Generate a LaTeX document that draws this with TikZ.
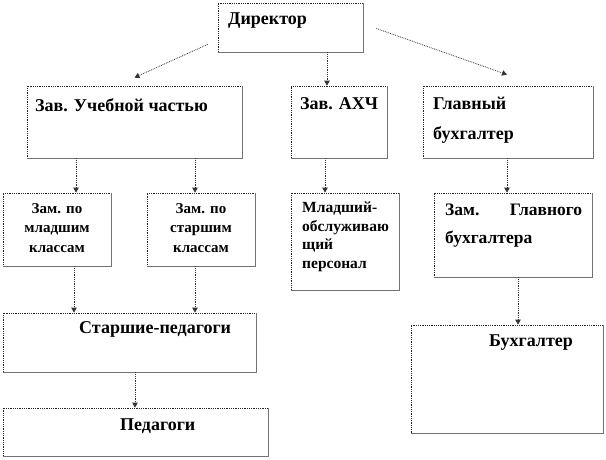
\documentclass[tikz,border=0pt]{standalone}
\usepackage{fontspec}
\setmainfont{Liberation Serif}
\usetikzlibrary{arrows.meta}
\begin{document}
\begin{tikzpicture}[x=1pt,y=-1pt,
  box/.style={draw=black!85, densely dotted, line width=0.8pt, inner sep=0pt, fill=white},
  edge/.style={draw=black!55, line width=0.8pt},
  arr/.style={draw=black!80, densely dotted, line width=0.8pt, -{Triangle[width=5.5pt,length=5pt,sep=0pt]}},
  big/.style={font=\bfseries\fontsize{18}{30}\selectfont, inner sep=0pt},
  mid/.style={font=\bfseries\fontsize{17.5}{28}\selectfont, inner sep=0pt},
  small/.style={font=\bfseries\fontsize{15}{19.5}\selectfont, inner sep=0pt},
  smallb/.style={font=\bfseries\fontsize{15.5}{18.5}\selectfont, inner sep=0pt}]
\useasboundingbox[fill=white] (0,0) rectangle (606,459);

% boxes
\node[box, minimum width=145pt, minimum height=49pt] (dir)  at (290.5,27.5) {};
\node[box, minimum width=215pt, minimum height=72pt] (zu)   at (134.5,122) {};
\node[box, minimum width=96pt,  minimum height=72pt] (ahch) at (339,122) {};
\node[box, minimum width=170pt, minimum height=72pt] (gb)   at (508,122) {};
\node[box, minimum width=108pt, minimum height=73pt] (zml)  at (57,229.5) {};
\node[box, minimum width=108pt, minimum height=73pt] (zst)  at (201,229.5) {};
\node[box, minimum width=108pt, minimum height=97pt] (mop)  at (345,241.5) {};
\node[box, minimum width=158pt, minimum height=84pt] (zgb)  at (513,235) {};
\node[box, minimum width=253pt, minimum height=59pt] (stp)  at (129.5,342.5) {};
\node[box, minimum width=265pt, minimum height=48pt] (ped)  at (135.5,432) {};
\node[box, minimum width=192pt, minimum height=108pt] (buh) at (507,379) {};

\foreach \b in {dir,zu,ahch,gb,zml,zst,mop,zgb,stp,ped,buh}
  \draw[edge] (\b.north east) -- (\b.south east) -- (\b.south west);

% texts
\node[big, anchor=base west] (tdir) at (228,24) {Директор};
\node[big, anchor=base west] (tzu) at (35,111) {Зав. Учебной частью};
\node[big, anchor=base west] (tahch) at (300,109) {Зав. АХЧ};
\node[big, anchor=base west] (tgb1) at (433,109) {Главный};
\node[big, anchor=base west] (tgb2) at (433,139) {бухгалтер};
\node[small, anchor=north, align=center] (tzml) at (57,203) {Зам. по\\младшим\\классам};
\node[small, anchor=north, align=center] (tzst) at (201,203) {Зам. по\\старшим\\классам};
\node[smallb, anchor=north west, align=left] (tmop) at (302,202) {Младший-\\обслуживаю\\щий\\персонал};
\node[mid, anchor=north west, text width=137pt, align=left] (tzgb) at (445,203.5) {Зам.\hfill Главного\\бухгалтера};
\node[big, anchor=base west] (tstp) at (79,333) {Старшие-педагоги};
\node[big, anchor=base west] (tped) at (120,430) {Педагоги};
\node[big, anchor=base west] (tbuh) at (489,346) {Бухгалтер};

% connectors
\draw[arr] ([xshift=-10pt,yshift=8pt]dir.south west) -- ([yshift=8pt]zu.north);
\draw[arr] (dir.south -| 327,0) -- (ahch.north -| 327,0);
\draw[arr] ([xshift=13pt,yshift=-1pt]dir.east) -- ([xshift=-1pt,yshift=11pt]gb.north);
\draw[arr] (zu.south -| 76,0) -- (zml.north -| 76,0);
\draw[arr] (zu.south -| 195,0) -- (zst.north -| 195,0);
\draw[arr] (ahch.south -| 325,0) -- (mop.north -| 325,0);
\draw[arr] (gb.south -| 507,0) -- (zgb.north -| 507,0);
\draw[arr] (zml.south -| 74,0) -- (stp.north -| 74,0);
\draw[arr] (zst.south -| 195,0) -- (stp.north -| 195,0);
\draw[arr] (stp.south -| 135,0) -- (ped.north -| 135,0);
\draw[arr] (zgb.south -| 518,0) -- (buh.north -| 518,0);
\end{tikzpicture}
\end{document}
